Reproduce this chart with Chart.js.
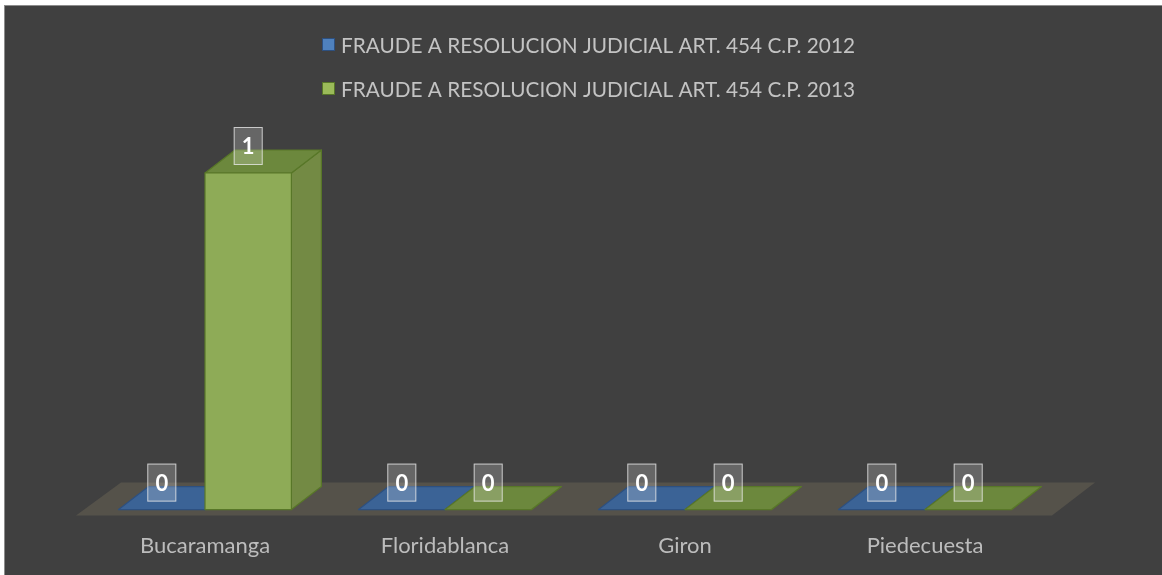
<!DOCTYPE html>
<html>
<head>
<meta charset="utf-8">
<script src="https://cdn.jsdelivr.net/npm/chart.js@4.4.0/dist/chart.umd.min.js"></script>
<style>
  html, body { margin: 0; padding: 0; background: #ffffff; overflow: hidden; width: 1162px; height: 575px; }
  #frame {
    position: absolute; left: 4px; top: 5px;
    width: 1200px; height: 600px;
    background: #404040;
    border-left: 1px solid #8c8c8c; border-top: 1px solid #8c8c8c;
  }
  #chart { position: absolute; left: 0; top: 0; }
</style>
</head>
<body>
<div id="frame"></div>
<canvas id="chart" width="1162" height="575"></canvas>
<script>
/* ================== DATA ================== */
const categories = ['Bucaramanga', 'Floridablanca', 'Giron', 'Piedecuesta'];
const values2012 = [0, 0, 0, 0];
const values2013 = [1, 0, 0, 0];
const seriesLabels = [
  'FRAUDE A RESOLUCION JUDICIAL ART. 454 C.P. 2012',
  'FRAUDE A RESOLUCION JUDICIAL ART. 454 C.P. 2013'
];

/* ================== 3D FACE COLORS ================== */
const faces = [
  { front: '#4a76b0', top: '#3b6396', side: '#32588a', border: '#2d5080', legend: '#4f81bd' },
  { front: '#8eab57', top: '#6c883d', side: '#738a44', border: '#587728', legend: '#9bbb59' }
];
const DEPTH = { dx: 30, dy: -23 };
const FONT = 'Lato, "Open Sans", sans-serif';

/* ================== FLOOR ================== */
const floorPlugin = {
  id: 'floor3d',
  beforeDatasetsDraw(chart) {
    const { ctx, chartArea: a } = chart;
    const y0 = chart.scales.y.getPixelForValue(0);
    ctx.save();
    ctx.fillStyle = '#55524a';
    ctx.beginPath();
    ctx.moveTo(a.left - 9, y0 + 6);
    ctx.lineTo(a.right + 7, y0 + 6);
    ctx.lineTo(a.right + 50, y0 - 27);
    ctx.lineTo(a.left + 36, y0 - 27);
    ctx.closePath();
    ctx.fill();
    ctx.restore();
  }
};

/* ================== 3D BARS + VALUE BOXES ================== */
const bars3dPlugin = {
  id: 'bars3d',
  beforeDatasetsDraw(chart) {
    const ctx = chart.ctx;
    const metas = chart.data.datasets.map((_, i) => chart.getDatasetMeta(i));
    const { dx, dy } = DEPTH;

    categories.forEach((_, j) => {
      metas.forEach((meta, i) => {
        const el = meta.data[j];
        if (!el) return;
        const { x, y, base, width } = el.getProps(['x', 'y', 'base', 'width'], true);
        const l = x - width / 2, r = x + width / 2;
        const c = faces[i];
        ctx.save();
        ctx.lineWidth = 1.2;
        ctx.strokeStyle = c.border;
        ctx.lineJoin = 'round';
        // side
        ctx.fillStyle = c.side;
        ctx.beginPath();
        ctx.moveTo(r, y); ctx.lineTo(r + dx, y + dy);
        ctx.lineTo(r + dx, base + dy); ctx.lineTo(r, base);
        ctx.closePath(); ctx.fill(); ctx.stroke();
        // top
        ctx.fillStyle = c.top;
        ctx.beginPath();
        ctx.moveTo(l, y); ctx.lineTo(r, y);
        ctx.lineTo(r + dx, y + dy); ctx.lineTo(l + dx, y + dy);
        ctx.closePath(); ctx.fill(); ctx.stroke();
        // front
        if (base - y > 0.5) {
          ctx.fillStyle = c.front;
          ctx.fillRect(l, y, width, base - y);
          ctx.strokeRect(l, y, width, base - y);
        }
        ctx.restore();
      });
    });

    // value boxes
    metas.forEach((meta, i) => {
      meta.data.forEach((el, j) => {
        const { x, y } = el.getProps(['x', 'y'], true);
        const v = chart.data.datasets[i].data[j];
        const bw = 29, bh = 38, cy = y - 27;
        ctx.save();
        ctx.fillStyle = 'rgba(255,255,255,0.2)';
        ctx.strokeStyle = 'rgba(235,235,235,0.75)';
        ctx.lineWidth = 1;
        ctx.fillRect(x - bw / 2, cy - bh / 2, bw, bh);
        ctx.strokeRect(x - bw / 2 + 0.5, cy - bh / 2 + 0.5, bw - 1, bh - 1);
        ctx.fillStyle = '#ffffff';
        ctx.font = 'bold 22px ' + FONT;
        ctx.textAlign = 'center';
        ctx.textBaseline = 'middle';
        ctx.fillText(String(v), x, cy + 1);
        ctx.restore();
      });
    });
    return false;
  }
};

/* ================== LEGEND ================== */
const legendPlugin = {
  id: 'stackLegend',
  afterDraw(chart) {
    const ctx = chart.ctx;
    ctx.save();
    ctx.font = '21px ' + FONT;
    ctx.textBaseline = 'middle';
    chart.data.datasets.forEach((ds, i) => {
      const cy = 45 + i * 44;
      ctx.fillStyle = faces[i].legend;
      ctx.strokeStyle = faces[i].border;
      ctx.fillRect(322, cy - 7, 13, 13);
      ctx.strokeRect(322.5, cy - 6.5, 12, 12);
      const w = ctx.measureText(ds.label).width;
      ctx.save();
      ctx.translate(341, cy);
      ctx.scale(514 / w, 1);
      ctx.fillStyle = '#c3c3c3';
      ctx.fillText(ds.label, 0, 1);
      ctx.restore();
    });
    ctx.restore();
  }
};

/* ================== CHART ================== */
new Chart(document.getElementById('chart'), {
  type: 'bar',
  data: {
    labels: categories,
    datasets: [
      { label: seriesLabels[0], data: values2012, backgroundColor: faces[0].front },
      { label: seriesLabels[1], data: values2013, backgroundColor: faces[1].front }
    ]
  },
  options: {
    responsive: false,
    animation: false,
    layout: { padding: { top: 173, left: 85, right: 117, bottom: -7 } },
    datasets: { bar: { categoryPercentage: 0.72, barPercentage: 1.0 } },
    scales: {
      x: {
        grid: { display: false, drawTicks: false },
        border: { display: false },
        ticks: { color: '#bcbcbc', font: { family: FONT, size: 22 }, padding: 23 }
      },
      y: { display: false, min: 0, max: 1 }
    },
    plugins: {
      legend: { display: false },
      tooltip: { enabled: false }
    }
  },
  plugins: [floorPlugin, bars3dPlugin, legendPlugin]
});
</script>
</body>
</html>
